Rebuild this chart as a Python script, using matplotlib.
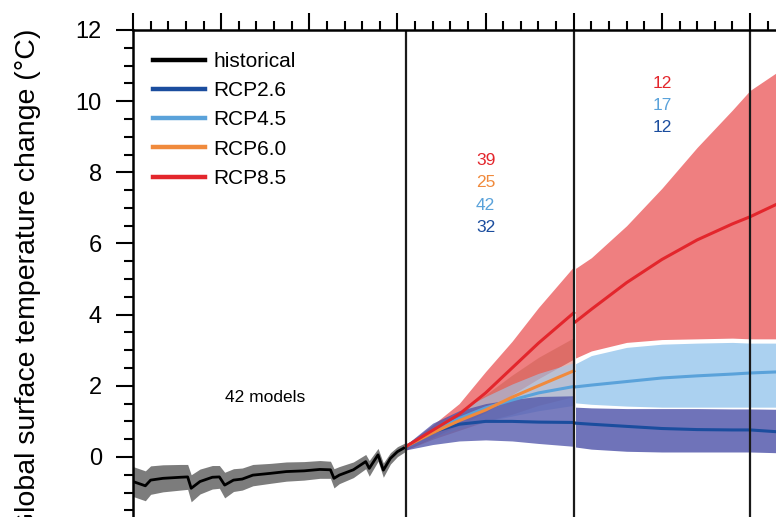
import matplotlib
matplotlib.use("Agg")
import matplotlib.pyplot as plt
from matplotlib.ticker import MultipleLocator

plt.rcParams['font.family'] = ['Liberation Sans', 'DejaVu Sans']

# historical multi-model mean and spread, 1850-2005
hist_years = [1850, 1857, 1860, 1867, 1877, 1881, 1883, 1888, 1895, 1899, 1902, 1907,
              1912, 1918, 1928, 1937, 1947, 1956, 1962, 1964, 1967, 1975, 1982, 1984,
              1989, 1992, 1996, 2000, 2005]
hist_mean = [-0.69, -0.81, -0.65, -0.60, -0.57, -0.56, -0.88, -0.69, -0.57, -0.56, -0.79, -0.65,
             -0.62, -0.51, -0.46, -0.41, -0.39, -0.35, -0.36, -0.60, -0.51, -0.36, -0.13, -0.32,
             0.06, -0.37, -0.04, 0.15, 0.29]
hist_hi = [-0.27, -0.39, -0.25, -0.22, -0.21, -0.21, -0.50, -0.34, -0.24, -0.24, -0.43, -0.33,
           -0.31, -0.21, -0.18, -0.14, -0.13, -0.10, -0.12, -0.33, -0.27, -0.14, 0.07, -0.10,
           0.24, -0.17, 0.12, 0.29, 0.41]
hist_lo = [-1.11, -1.23, -1.05, -0.98, -0.93, -0.91, -1.26, -1.04, -0.90, -0.88, -1.15, -0.97,
           -0.93, -0.81, -0.74, -0.68, -0.65, -0.60, -0.60, -0.87, -0.75, -0.58, -0.33, -0.54,
           -0.12, -0.57, -0.20, 0.01, 0.17]

# projections 2006-2100
proj_years = [2005, 2020, 2035, 2050, 2065, 2080, 2100]
rcp85_mean = [0.30, 0.75, 1.20, 1.80, 2.50, 3.20, 4.05]
rcp85_hi = [0.35, 0.90, 1.50, 2.40, 3.25, 4.20, 5.35]
rcp85_lo = [0.20, 0.55, 0.90, 1.25, 1.75, 2.20, 2.75]
rcp60_mean = [0.30, 0.68, 1.02, 1.32, 1.68, 2.00, 2.42]
rcp60_hi = [0.35, 0.85, 1.30, 1.75, 2.30, 2.80, 3.35]
rcp60_lo = [0.20, 0.50, 0.75, 1.00, 1.20, 1.45, 1.70]
rcp45_mean = [0.30, 0.72, 1.08, 1.38, 1.60, 1.80, 1.98]
rcp45_hi = [0.35, 0.85, 1.30, 1.70, 2.05, 2.35, 2.65]
rcp45_lo = [0.22, 0.55, 0.80, 1.00, 1.15, 1.30, 1.45]
rcp26_mean = [0.30, 0.70, 0.92, 1.00, 1.00, 0.98, 0.97]
rcp26_hi = [0.35, 0.95, 1.30, 1.50, 1.62, 1.70, 1.72]
rcp26_lo = [0.20, 0.35, 0.45, 0.48, 0.45, 0.38, 0.30]

# extensions beyond 2100
ext_years = [2101, 2110, 2130, 2150, 2170, 2190, 2200, 2215, 2230]
rcp85_ext_mean = [3.80, 4.15, 4.90, 5.55, 6.10, 6.55, 6.75, 7.10, 7.35]
rcp85_ext_hi = [5.30, 5.60, 6.50, 7.55, 8.70, 9.75, 10.30, 10.80, 11.20]
rcp85_ext_lo = [2.78, 2.98, 3.22, 3.30, 3.32, 3.34, 3.32, 3.32, 3.32]
rcp45_ext_mean = [1.97, 2.02, 2.12, 2.22, 2.28, 2.33, 2.36, 2.39, 2.40]
rcp45_ext_hi = [2.62, 2.85, 3.08, 3.17, 3.20, 3.22, 3.20, 3.20, 3.20]
rcp45_ext_lo = [1.52, 1.48, 1.43, 1.40, 1.40, 1.40, 1.40, 1.40, 1.40]
rcp26_ext_mean = [0.95, 0.92, 0.86, 0.80, 0.77, 0.76, 0.76, 0.71, 0.70]
rcp26_ext_hi = [1.40, 1.38, 1.36, 1.36, 1.36, 1.35, 1.35, 1.34, 1.34]
rcp26_ext_lo = [0.28, 0.22, 0.16, 0.14, 0.14, 0.14, 0.14, 0.12, 0.12]

# model counts
counts_2100 = ["39", "25", "42", "32"]
counts_2300 = ["12", "17", "12"]

c85, c60, c45, c26 = '#e3262c', '#f08a3c', '#5aa2da', '#1b4d9e'
f85, f60, f45, f26 = '#ef7f80', '#c9584a', '#9cc9ee', '#4b50a8'

fig = plt.figure(figsize=(7.76, 5.17), dpi=100)
ax = fig.add_axes([0.1714, -0.1592, 1.0223, 1.1012])

# shading
ax.fill_between(hist_years, hist_lo, hist_hi, color='#7c7c7c', lw=0)
ax.fill_between(proj_years, rcp85_lo, rcp85_hi, color=f85, lw=0)
ax.fill_between(proj_years, rcp60_lo, rcp60_hi, color=f60, alpha=0.45, lw=0)
ax.fill_between(proj_years, rcp45_lo, rcp45_hi, color=f45, alpha=0.6, lw=0)
ax.fill_between(proj_years, rcp26_lo, rcp26_hi, color=f26, alpha=0.75, lw=0)
ax.fill_between(ext_years, rcp85_ext_lo, rcp85_ext_hi, color=f85, lw=0)
ax.fill_between(ext_years, rcp45_ext_lo, rcp45_ext_hi, color=f45, alpha=0.85, lw=0)
ax.fill_between(ext_years, rcp26_ext_lo, rcp26_ext_hi, color=f26, alpha=0.8, lw=0)

# means
h_hist, = ax.plot(hist_years, hist_mean, color='black', lw=2, label='historical')
h26, = ax.plot(proj_years, rcp26_mean, color=c26, lw=2.2, label='RCP2.6')
ax.plot(ext_years, rcp26_ext_mean, color=c26, lw=2.2)
h45, = ax.plot(proj_years, rcp45_mean, color=c45, lw=2.2, label='RCP4.5')
ax.plot(ext_years, rcp45_ext_mean, color=c45, lw=2.2)
h60, = ax.plot(proj_years, rcp60_mean, color=c60, lw=2.2, label='RCP6.0')
h85, = ax.plot(proj_years, rcp85_mean, color=c85, lw=2.2, label='RCP8.5')
ax.plot(ext_years, rcp85_ext_mean, color=c85, lw=2.2)

for yr in [2005, 2100, 2200]:
    ax.axvline(yr, color='#1a1a1a', lw=1.6)

# annotations
ax.text(1925, 1.66, '42 models', fontsize=12.5, ha='center', va='center')
for lab, col, yv in zip(counts_2100, [c85, c60, c45, c26], [8.34, 7.72, 7.08, 6.46]):
    ax.text(2050, yv, lab, color=col, fontsize=12.5, ha='center', va='center')
for lab, col, yv in zip(counts_2300, [c85, c45, c26], [10.5, 9.89, 9.27]):
    ax.text(2150, yv, lab, color=col, fontsize=12.5, ha='center', va='center')

leg = ax.legend(handles=[h_hist, h26, h45, h60, h85], loc='upper left',
                bbox_to_anchor=(153 / 776, 1 - 52 / 517), bbox_transform=fig.transFigure,
                frameon=False, fontsize=15, handlelength=2.5, handletextpad=0.4,
                labelspacing=0.49, borderpad=0, borderaxespad=0)
for ln in leg.get_lines():
    ln.set_linewidth(3.2)

ax.set_xlim(1850, 2300)
ax.set_ylim(-4, 12)
ax.yaxis.set_major_locator(MultipleLocator(2))
ax.yaxis.set_minor_locator(MultipleLocator(0.5))
ax.xaxis.set_major_locator(MultipleLocator(50))
ax.xaxis.set_minor_locator(MultipleLocator(10))
ax.tick_params(axis='both', which='both', direction='out', width=1.5, top=True, right=False)
ax.tick_params(axis='both', which='major', length=12.5, labelsize=17, pad=10)
ax.tick_params(axis='both', which='minor', length=6.5)
ax.tick_params(axis='x', labeltop=False, labelbottom=False)
for sp in ax.spines.values():
    sp.set_linewidth(1.8)

fig.text(28 / 776, 1 - 29 / 517, 'Global surface temperature change (°C)',
         rotation=90, ha='center', va='top', fontsize=20.5)

fig.savefig('out.png', dpi=100)
